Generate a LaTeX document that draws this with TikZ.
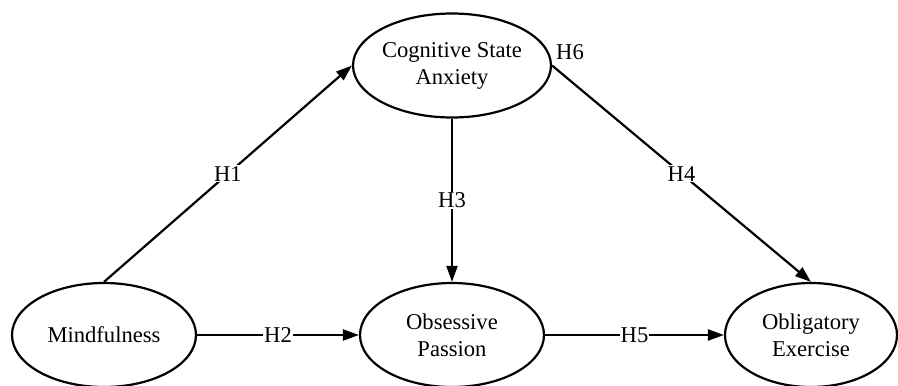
\documentclass[tikz,border=0pt]{standalone}
\usepackage{fontspec}
\setmainfont{Liberation Serif}
\usetikzlibrary{shapes.geometric,arrows.meta}
\begin{document}
\begin{tikzpicture}[x=1pt,y=-1pt,
  latent/.style={ellipse,draw,line width=2.2pt,minimum width=184pt,minimum height=104pt,inner sep=0pt,align=center,font=\fontsize{22.6}{27}\selectfont},
  lbl/.style={fill=white,inner sep=1pt,font=\fontsize{22.6}{27}\selectfont},
  conn/.style={line width=2.2pt,-{Triangle[length=16pt,width=11pt]}}
]
\useasboundingbox (0,0) rectangle (898,386);
\node[latent] (csa) at (452,65.5) {Cognitive State\\Anxiety};
\node[latent] (mf) at (104,335) {Mindfulness};
\node[latent] (op) at (452,335) {Obsessive\\Passion};
\node[latent,minimum width=172pt] (oe) at (811,335) {Obligatory\\Exercise};
\node[font=\fontsize{22.6}{27}\selectfont,inner sep=1pt] (h6) at (570,52) {H6};
\draw[conn] (mf.north) -- node[lbl] {H1} (csa.west);
\draw[conn] (mf.east) -- node[lbl] {H2} (op.west);
\draw[conn] (csa.south) -- node[lbl] {H3} (op.north);
\draw[conn] (csa.east) -- node[lbl] {H4} (oe.north);
\draw[conn] (op.east) -- node[lbl] {H5} (oe.west);
\end{tikzpicture}
\end{document}
